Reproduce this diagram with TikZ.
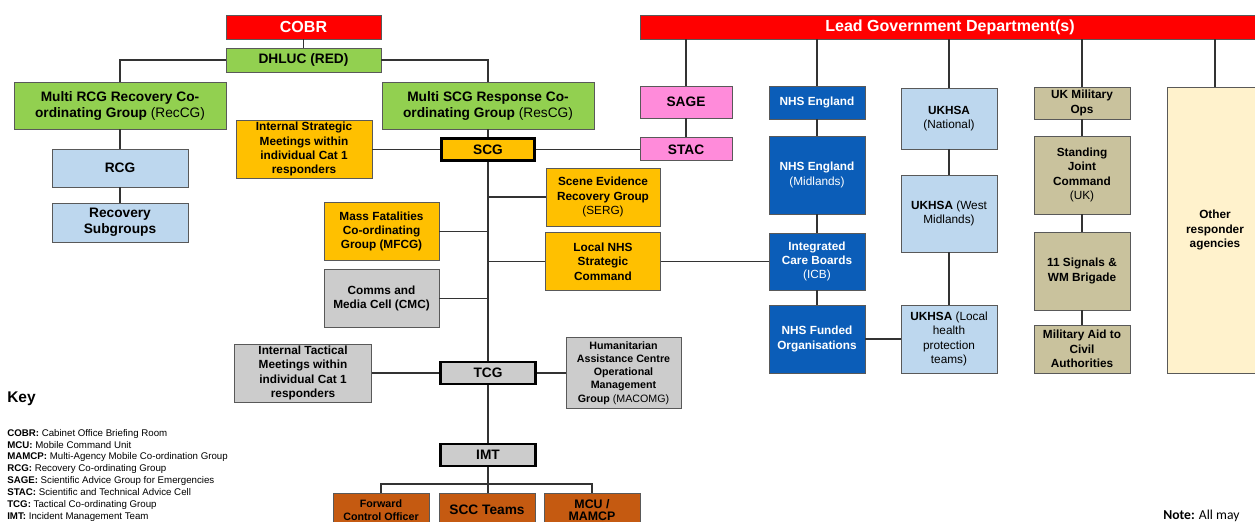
\documentclass[tikz,border=0pt]{standalone}
\usepackage{fontspec}
\setmainfont{Liberation Sans}
\newfontfamily\notefont{Carlito}

\definecolor{cobrred}{HTML}{FF0000}
\definecolor{recgreen}{HTML}{92D050}
\definecolor{paleblue}{HTML}{BDD7EE}
\definecolor{amber}{HTML}{FFC000}
\definecolor{sagepink}{HTML}{FF8BDA}
\definecolor{midgrey}{HTML}{CCCCCC}
\definecolor{nhsblue}{HTML}{0B5DB8}
\definecolor{khaki}{HTML}{C9C29D}
\definecolor{cream}{HTML}{FFF2CC}
\definecolor{rust}{HTML}{C55A11}

\begin{document}
\begin{tikzpicture}[x=0.025cm, y=-0.025cm,
    org/.style={draw=black!65, line width=0.6pt, align=center, inner sep=1pt,
      font=\bfseries\fontsize{8.4}{10.2}\selectfont},
    titletxt/.style={font=\bfseries\fontsize{11.4}{13}\selectfont},
    bigtxt/.style={font=\bfseries\fontsize{9.75}{11.4}\selectfont},
    smalltxt/.style={font=\bfseries\fontsize{7.6}{9.4}\selectfont},
    wh/.style 2 args={minimum width=#1*0.025cm, minimum height=#2*0.025cm},
    hub/.style={draw=black, line width=2pt},
    link/.style={draw=black!80, line width=0.9pt}]
  \useasboundingbox (0,0) rectangle (1255,521);
  \clip (0,0) rectangle (1255,521);

  % COBR and recovery side
  \node[org, titletxt, fill=cobrred, text=white, wh={155}{24}] (cobr) at (303.5,27) {COBR};
  \node[org, bigtxt, fill=recgreen, wh={155}{24}] (dhluc) at (303.5,60) {DHLUC (RED)};
  \node[org, bigtxt, fill=recgreen, wh={212}{47}] (recg) at (120,105.5) {Multi RCG Recovery Co-\\ordinating Group {\mdseries (RecCG)}};
  \node[org, bigtxt, fill=recgreen, wh={212}{47}] (rescg) at (488,105.5) {Multi SCG Response Co-\\ordinating Group {\mdseries (ResCG)}};
  \node[org, bigtxt, fill=paleblue, wh={136}{38}] (rcg) at (120,168) {RCG};
  \node[org, bigtxt, fill=paleblue, wh={136}{39}] (subgrp) at (120,222.5) {Recovery\\Subgroups};

  % strategic level
  \node[org, fill=amber, wh={136}{58}] (intstrat) at (304,149.3) {Internal Strategic\\Meetings within\\individual Cat 1\\responders};
  \node[org, bigtxt, fill=amber, hub, wh={93}{22}] (scg) at (488,149.3) {SCG};
  \node[org, fill=amber, wh={114}{58}] (serg) at (603,197) {Scene Evidence\\Recovery Group\\{\mdseries (SERG)}};
  \node[org, fill=amber, wh={115}{58}] (mfcg) at (381.5,231.5) {Mass Fatalities\\Co-ordinating\\Group (MFCG)};
  \node[org, fill=amber, wh={115}{58}] (lnhs) at (603,261.5) {Local NHS\\Strategic\\Command};
  \node[org, fill=midgrey, wh={115}{58}] (cmc) at (381.5,298.5) {Comms and\\Media Cell (CMC)};

  % tactical and operational level
  \node[org, fill=midgrey, wh={137}{58}] (inttact) at (303,373) {Internal Tactical\\Meetings within\\individual Cat 1\\responders};
  \node[org, bigtxt, fill=midgrey, hub, wh={95}{22}] (tcg) at (488,373) {TCG};
  \node[org, smalltxt, fill=midgrey, wh={115}{71}] (macomg) at (623.5,373) {Humanitarian\\Assistance Centre\\Operational\\Management\\Group {\mdseries (MACOMG)}};
  \node[org, bigtxt, fill=midgrey, hub, wh={95}{22}] (imt) at (488,455) {IMT};
  \node[org, smalltxt, fill=rust, wh={96}{34}] (fco) at (381,510) {Forward\\Control Officer};
  \node[org, bigtxt, fill=rust, wh={96}{34}] (scc) at (487,510) {SCC Teams};
  \node[org, font=\bfseries\fontsize{8.8}{8.8}\selectfont, fill=rust, wh={96}{34}] (mcu) at (592,510) {MCU /\\MAMCP};

  % lead government department and its columns
  \node[org, titletxt, fill=cobrred, text=white, wh={620}{24}] (lgd) at (950,27) {Lead Government Department(s)};
  \node[org, bigtxt, fill=sagepink, wh={92}{32}] (sage) at (686,102) {SAGE};
  \node[org, bigtxt, fill=sagepink, wh={92}{23}] (stac) at (686,149.3) {STAC};
  \node[org, fill=nhsblue, text=white, wh={96}{33}] (nhse) at (817,102.5) {NHS England};
  \node[org, fill=nhsblue, text=white, wh={96}{78}] (nhsem) at (817,175) {NHS England\\{\mdseries (Midlands)}};
  \node[org, fill=nhsblue, text=white, wh={96}{57}] (icb) at (817,261.5) {Integrated\\Care Boards\\{\mdseries (ICB)}};
  \node[org, fill=nhsblue, text=white, wh={96}{68}] (nhsf) at (817,339) {NHS Funded\\Organisations};
  \node[org, fill=paleblue, wh={96}{61}] (ukn) at (949,118.5) {UKHSA\\{\mdseries (National)}};
  \node[org, fill=paleblue, wh={96}{77}] (ukwm) at (949,213.5) {UKHSA {\mdseries (West}\\{\mdseries Midlands)}};
  \node[org, fill=paleblue, wh={96}{68}] (ukl) at (949,339) {UKHSA {\mdseries (Local}\\{\mdseries health}\\{\mdseries protection}\\{\mdseries teams)}};
  \node[org, fill=khaki, wh={96}{32}] (ukmil) at (1082,103) {UK Military\\Ops};
  \node[org, fill=khaki, wh={96}{78}] (sjc) at (1082,175) {Standing\\Joint\\Command\\{\mdseries (UK)}};
  \node[org, fill=khaki, wh={96}{78}] (signals) at (1082,271) {11 Signals \&\\WM Brigade};
  \node[org, fill=khaki, wh={96}{48}] (maca) at (1082,349) {Military Aid to\\Civil\\Authorities};
  \node[org, fill=cream, wh={96}{286}] (others) at (1215,230) {Other\\responder\\agencies};

  % connectors, left part
  \draw[link] (cobr) -- (dhluc);
  \draw[link] (dhluc.west) -| (recg.north);
  \draw[link] (dhluc.east) -| (rescg.north);
  \draw[link] (recg) -- (rcg);
  \draw[link] (rcg) -- (subgrp);
  \draw[link] (rescg) -- (scg);
  \draw[link] (intstrat) -- (scg);
  \draw[link] (scg) -- (stac);
  \draw[link] (scg) -- (tcg);
  \draw[link] (serg.west) -- (serg.west -| scg.south);
  \draw[link] (mfcg.east) -- (mfcg.east -| scg.south);
  \draw[link] (lnhs.west) -- (lnhs.west -| scg.south);
  \draw[link] (cmc.east) -- (cmc.east -| scg.south);
  \draw[link] (lnhs) -- (icb);
  \draw[link] (inttact) -- (tcg);
  \draw[link] (tcg) -- (macomg);
  \draw[link] (tcg) -- (imt);
  \coordinate (imtbus) at (488,484);
  \draw[link] (imt) -- (imt |- scc.north);
  \draw[link] (fco.north) |- (imtbus) -| (mcu.north);

  % connectors, right part
  \foreach \col in {sage, nhse, ukn, ukmil, others}
    \draw[link] (lgd.south -| \col.north) -- (\col.north);
  \draw[link] (sage) -- (stac);
  \draw[link] (nhse) -- (nhsem);
  \draw[link] (nhsem) -- (icb);
  \draw[link] (icb) -- (nhsf);
  \draw[link] (ukn) -- (ukwm);
  \draw[link] (ukwm) -- (ukl);
  \draw[link] (nhsf) -- (ukl);
  \draw[link] (ukmil) -- (sjc);
  \draw[link] (sjc) -- (signals);
  \draw[link] (signals) -- (maca);

  % key and note
  \node[anchor=west, inner sep=0, font=\bfseries\fontsize{11}{13}\selectfont] (keyhead) at (7,399) {Key};
  \node[anchor=north west, align=left, inner sep=0, font=\fontsize{6.9}{8.4}\selectfont] (keylist) at (7,429) {%
    \textbf{COBR:} Cabinet Office Briefing Room\\
    \textbf{MCU:} Mobile Command Unit\\
    \textbf{MAMCP:} Multi-Agency Mobile Co-ordination Group\\
    \textbf{RCG:} Recovery Co-ordinating Group\\
    \textbf{SAGE:} Scientific Advice Group for Emergencies\\
    \textbf{STAC:} Scientific and Technical Advice Cell\\
    \textbf{TCG:} Tactical Co-ordinating Group\\
    \textbf{IMT:} Incident Management Team};
  \node[anchor=base west, inner sep=0, font=\notefont\fontsize{9.7}{11}\selectfont] (note) at (1163,519) {\textbf{Note:} All may};
\end{tikzpicture}
\end{document}
